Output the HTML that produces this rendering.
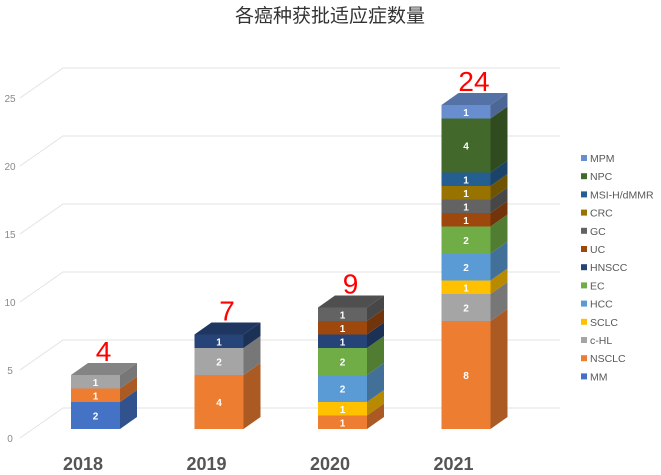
<!DOCTYPE html>
<html><head><meta charset="utf-8"><style>
body{margin:0;background:#fff;}
svg{display:block;font-family:"Liberation Sans","Noto Sans CJK SC",sans-serif;}
</style></head><body>
<svg id="c" width="661" height="475"></svg>
<script>
const years=["2018","2019","2020","2021"];
const seriesNames=["MM","NSCLC","c-HL","SCLC","HCC","EC","HNSCC","UC","GC","CRC","MSI-H/dMMR","NPC","MPM"];
const colors=["#4472C4","#ED7D31","#A5A5A5","#FFC000","#5B9BD5","#70AD47","#264478","#9E480E","#636363","#997300","#255E91","#43682B","#698ED0"];
const vMM=[2,0,0,0];
const vNSCLC=[1,4,1,8];
const vCHL=[1,2,0,2];
const vSCLC=[0,0,1,1];
const vHCC=[0,0,2,2];
const vEC=[0,0,2,2];
const vHNSCC=[0,1,1,0];
const vUC=[0,0,1,1];
const vGC=[0,0,1,1];
const vCRC=[0,0,0,1];
const vMSI=[0,0,0,1];
const vNPC=[0,0,0,4];
const vMPM=[0,0,0,1];
const values=[vMM,vNSCLC,vCHL,vSCLC,vHCC,vEC,vHNSCC,vUC,vGC,vCRC,vMSI,vNPC,vMPM];
const yTicks=[0,5,10,15,20,25];

const NS="http://www.w3.org/2000/svg";
const svg=document.getElementById('c');
function mk(t,a,p){const e=document.createElementNS(NS,t);for(const k in a)e.setAttribute(k,a[k]);(p||svg).appendChild(e);return e;}
function shade(hex,f){const n=parseInt(hex.slice(1),16);let r=n>>16,g=(n>>8)&255,b=n&255;r=Math.round(r*f);g=Math.round(g*f);b=Math.round(b*f);return `rgb(${r},${g},${b})`;}
const unit=13.5, base=429, DX=17, DY=-12;
const y=v=>base-v*unit;
const x=i=>71+i*123.5;
const BW=49;

const title=mk('text',{x:330,y:22,'text-anchor':'middle','font-size':19,fill:'#333'});
title.textContent='各癌种获批适应症数量';



// grid
yTicks.forEach(t=>{
  const gy=408-t*13.6;
  const g=mk('g',{});
  
  
  mk('polyline',{points:`20,${gy+30} 63,${gy} 560,${gy}`,fill:'none',stroke:'#e3e3e3','stroke-width':1},g);
  const tl=mk('text',{x:10,y:gy+34,'text-anchor':'middle','font-size':10,fill:'#8a8a8a'});
  tl.textContent=t;
  
  
});

years.forEach((yr,i)=>{
  const g=mk('g',{});
  
  
  let cum=0, topColor=null;
  values.forEach((arr,s)=>{
    const v=arr[i]; if(!v)return;
    const y0=y(cum), y1=y(cum+v), x0=x(i), x1=x0+BW;
    const seg=mk('g',{},g);
    
    
    mk('rect',{x:x0,y:y1,width:BW,height:y0-y1,fill:colors[s]},seg);
    mk('polygon',{points:`${x1},${y0} ${x1+DX},${y0+DY} ${x1+DX},${y1+DY} ${x1},${y1}`,fill:shade(colors[s],0.72)},seg);
    const lb=mk('text',{x:x0+BW/2,y:(y0+y1)/2+4,'text-anchor':'middle','font-size':10,'font-weight':'bold',fill:'#fff'},seg);
    lb.textContent=v;
    cum+=v; topColor=colors[s];
  });
  const yt=y(cum), x0=x(i);
  const top=mk('polygon',{points:`${x0},${yt} ${x0+DX},${yt+DY} ${x0+BW+DX},${yt+DY} ${x0+BW},${yt}`,fill:shade(topColor,0.8)},g);
  
  
  const tot=mk('text',{x:x0+BW/2+8,y:yt-14,'text-anchor':'middle','font-size':28,fill:'#FF0000'});
  tot.textContent=cum;
  
  
  const xl=mk('text',{x:x0+12,y:470,'text-anchor':'middle','font-size':18,'font-weight':'bold',fill:'#555'});
  xl.textContent=yr;
  
  
});

// legend (reverse order, MPM on top)
for(let k=0;k<seriesNames.length;k++){
  const s=seriesNames.length-1-k;
  const ly=159+k*18.2;
  const g=mk('g',{});
  
  
  mk('rect',{x:581,y:ly-4,width:6,height:6,fill:colors[s]},g);
  const t=mk('text',{x:590,y:ly+3,'font-size':10.5,fill:'#595959'},g);
  t.textContent=seriesNames[s];
}
</script>
</body></html>
